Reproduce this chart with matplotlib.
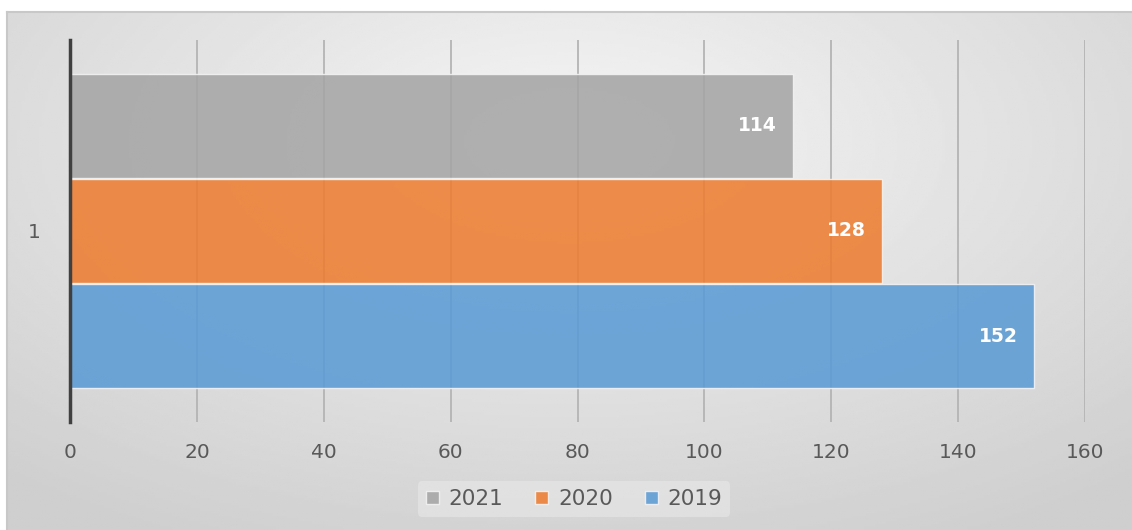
import numpy as np
import matplotlib.pyplot as plt

# data
categories = ['1']
series = ['2021', '2020', '2019']
values = [114, 128, 152]
colors = ['#a5a5a5', '#ed7d31', '#5b9bd5']
xticks = [0, 20, 40, 60, 80, 100, 120, 140, 160]

W, H = 1132, 530
fig = plt.figure(figsize=(W / 100, H / 100), dpi=100)
fig.patch.set_facecolor('white')

# gradient chart background (Office style radial fill)
bg = fig.add_axes([7 / W, 0, 1 - 7 / W, 1 - 12 / H])
gx, gy = np.meshgrid(np.linspace(-1, 1, 400), np.linspace(-1, 1, 200))
r = np.sqrt((gx * 0.85) ** 2 + ((gy + 0.5) * 0.75) ** 2)
shade = 0.96 - 0.15 * np.clip(r, 0, 1.3) / 1.3
bg.imshow(shade, cmap='gray', vmin=0, vmax=1, aspect='auto', extent=[0, 1, 0, 1])
bg.set_xticks([])
bg.set_yticks([])
for s in ['right', 'bottom']:
    bg.spines[s].set_visible(False)
for s in ['top', 'left']:
    bg.spines[s].set_color('#c8c8c8')
    bg.spines[s].set_linewidth(1.5)

ax = fig.add_axes([70 / W, 1 - 422 / H, (1085 - 70) / W, (422 - 40) / H])
ax.patch.set_alpha(0)

offsets = [0.275, 0.0, -0.275]
for name, v, c, off in zip(series, values, colors, offsets):
    ax.barh(0 + off, v, height=0.272, color=c, alpha=0.87, edgecolor='#f4f4f4',
            linewidth=1.0, label=name, zorder=2)
    ax.annotate(str(v), (v, 0 + off), xytext=(-12, 0), textcoords='offset points',
                ha='right', va='center', color='white', fontsize=13.5,
                fontweight='bold', zorder=4)

ax.set_xlim(0, 160)
ax.set_ylim(-0.5, 0.5)
ax.set_xticks(xticks)
ax.set_xticklabels([str(t) for t in xticks])
ax.set_yticks([0])
ax.set_yticklabels(categories)
ax.grid(axis='x', color='#b4b4b4', linewidth=1.3, zorder=1)
ax.tick_params(axis='x', length=0, pad=15, labelsize=14.5, labelcolor='#595959')
ax.tick_params(axis='y', length=0, pad=21, labelsize=14.5, labelcolor='#595959')
for s in ['top', 'right', 'bottom']:
    ax.spines[s].set_visible(False)
ax.spines['left'].set_color('#404040')
ax.spines['left'].set_linewidth(2.5)
ax.spines['left'].set_zorder(5)

leg = fig.legend(loc='center', bbox_to_anchor=(574 / W, 1 - 499 / H), ncol=3,
                 fontsize=15.5, frameon=True, handlelength=0.6, handleheight=0.6,
                 handletextpad=0.45, columnspacing=1.5, borderpad=0.35)
leg.get_frame().set_facecolor('#e8e8e8')
leg.get_frame().set_edgecolor('none')
leg.get_frame().set_alpha(0.6)
for t in leg.get_texts():
    t.set_color('#595959')

fig.savefig('out.png', dpi=100, facecolor=fig.get_facecolor())
